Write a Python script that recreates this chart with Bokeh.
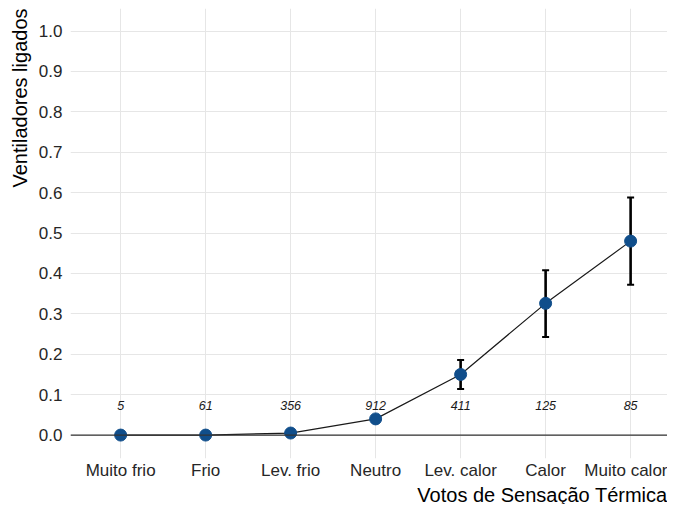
from bokeh.plotting import figure
from bokeh.models import (ColumnDataSource, FixedTicker, Range1d, Span, Whisker,
                          TeeHead, Title, NumeralTickFormatter)
from bokeh.embed import file_html
from bokeh.resources import INLINE
from bokeh.core.properties import value

# ---- data ----
categories = ["Muito frio", "Frio", "Lev. frio", "Neutro", "Lev. calor", "Calor", "Muito calor"]
proportion = [0.0, 0.0, 0.005, 0.040, 0.150, 0.326, 0.480]
lower = [0.0, 0.0, 0.002, 0.033, 0.114, 0.243, 0.372]
upper = [0.0, 0.0, 0.008, 0.048, 0.186, 0.408, 0.588]
counts = ["5", "61", "356", "912", "411", "125", "85"]
y_ticks = [0.0, 0.1, 0.2, 0.3, 0.4, 0.5, 0.6, 0.7, 0.8, 0.9, 1.0]

xpos = list(range(1, len(categories) + 1))
src = ColumnDataSource(dict(x=xpos, y=proportion, lo=lower, hi=upper, n=counts))

FONT = "Liberation Sans"
TXT = "#262626"

p = figure(width=667, height=504, output_backend="svg", toolbar_location=None,
           x_range=Range1d(0.41, 7.434), y_range=Range1d(-0.058, 1.0557),
           min_border_left=70, min_border_right=0, min_border_top=8, min_border_bottom=36)
p.outline_line_color = None
p.background_fill_color = "white"
p.border_fill_color = "white"

# axes
p.xaxis.ticker = FixedTicker(ticks=xpos)
p.xaxis.major_label_overrides = {i: c for i, c in zip(xpos, categories)}
p.yaxis.ticker = FixedTicker(ticks=y_ticks)
p.yaxis.formatter = NumeralTickFormatter(format="0.0")
for ax in (p.xaxis[0], p.yaxis[0]):
    ax.axis_line_color = None
    ax.major_tick_line_color = None
    ax.minor_tick_line_color = None
    ax.major_tick_in = 0
    ax.major_tick_out = 0
    ax.major_label_text_font = FONT
    ax.major_label_text_font_size = "17px"
    ax.major_label_text_color = TXT
p.yaxis.major_label_standoff = 8
p.xaxis.major_label_standoff = 2

# grids
p.xgrid.ticker = FixedTicker(ticks=xpos)
p.ygrid.ticker = FixedTicker(ticks=y_ticks)
for g in (p.xgrid[0], p.ygrid[0]):
    g.grid_line_color = "#e6e6e6"
    g.grid_line_width = 1

# zero line
p.add_layout(Span(location=0, dimension="width", line_color="#333333", line_width=1.3))

# connecting line
p.line("x", "y", source=src, line_color="#1a1a1a", line_width=1.2)

# error bars
wh = Whisker(base="x", lower="lo", upper="hi", source=src,
             line_color="black", line_width=2.6,
             upper_head=TeeHead(size=7, line_color="black", line_width=2),
             lower_head=TeeHead(size=7, line_color="black", line_width=2))
p.add_layout(wh)

# points
p.scatter("x", "y", source=src, size=12, fill_color="#104E8B", line_color="#104E8B")

# counts
p.text(x="x", y=0.073, text="n", source=src, text_align="center", text_baseline="middle",
       text_font=value(FONT), text_font_size="12.5px", text_font_style="italic",
       text_color="#1a1a1a")

# axis titles
p.add_layout(Title(text="Ventiladores ligados", align="right", text_font=FONT,
                   text_font_size="20px", text_font_style="normal", text_color="black",
                   standoff=10), "left")
p.add_layout(Title(text="Votos de Sensação Térmica", align="right", text_font=FONT,
                   text_font_size="20px", text_font_style="normal", text_color="black",
                   standoff=-2), "below")

open("out.html", "w").write(file_html(p, INLINE))
